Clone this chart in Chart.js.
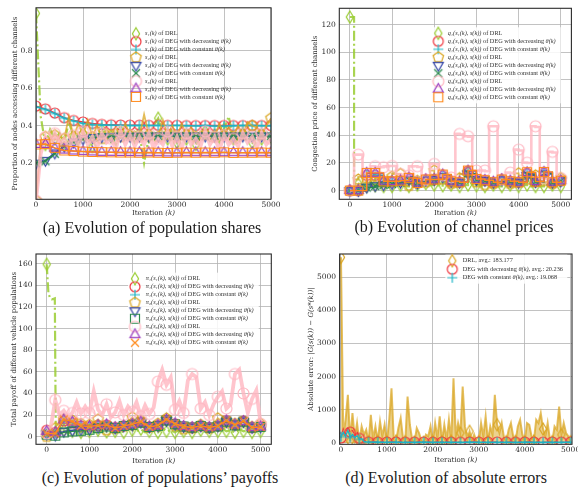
<!DOCTYPE html>
<html>
<head>
<meta charset="utf-8">
<script src="https://cdn.jsdelivr.net/npm/chart.js@4.4.1/dist/chart.umd.min.js"></script>
<style>
  html, body { margin: 0; padding: 0; background: #fff; width: 578px; height: 492px; overflow: hidden; }
  canvas { position: absolute; }
  .cap { position: absolute; font-family: "Liberation Serif", "DejaVu Serif", serif; font-size: 16px;
         color: #1a1a1a; white-space: nowrap; transform: translate(-50%, -50%); }
</style>
</head>
<body>
<canvas id="panelA" width="289" height="222" style="left:0px;top:0px"></canvas>
<canvas id="panelB" width="289" height="222" style="left:289px;top:0px"></canvas>
<canvas id="panelC" width="289" height="222" style="left:0px;top:245px"></canvas>
<canvas id="panelD" width="289" height="222" style="left:289px;top:245px"></canvas>
<div class="cap" style="left:152px;top:228px">(a) Evolution of population shares</div>
<div class="cap" style="left:454px;top:227px">(b) Evolution of channel prices</div>
<div class="cap" style="left:160px;top:478px">(c) Evolution of populations’ payoffs</div>
<div class="cap" style="left:446px;top:478px">(d) Evolution of absolute errors</div>
<script>
// ---------- iteration grids ----------
const iters50 = [], iters100 = [], iters200 = [];
for (let k = 0; k <= 5000; k += 50) iters50.push(k);
for (let k = 0; k <= 5000; k += 100) iters100.push(k);
for (let k = 0; k <= 5000; k += 200) iters200.push(k);

const xTicks = [0, 1000, 2000, 3000, 4000, 5000];
const yTicksA = [0.2, 0.4, 0.6, 0.8];
const yTicksB = [0, 20, 40, 60, 80, 100, 120];
const yTicksC = [0, 20, 40, 60, 80, 100, 120, 140, 160];
const yTicksD = [0, 1000, 2000, 3000, 4000, 5000];

// ---------- (a) population shares ----------
const shareS1DRL = [1.00,0.45,0.30,0.38,0.33,0.36,0.31,0.42,0.34,0.30,
  0.36,0.33,0.29,0.35,0.38,0.32,0.34,0.30,0.37,0.33,
  0.35,0.31,0.36,0.20,0.34,0.40,0.44,0.36,0.33,0.38,
  0.31,0.35,0.33,0.36,0.30,0.34,0.37,0.32,0.35,0.31,
  0.38,0.45,0.33,0.30,0.36,0.34,0.31,0.37,0.33,0.35,
  0.34];
const shareS2DRL = [0.00,0.30,0.34,0.33,0.35,0.34,0.33,0.45,0.34,0.41,
  0.35,0.43,0.34,0.40,0.33,0.38,0.35,0.39,0.34,0.41,
  0.35,0.37,0.34,0.46,0.35,0.36,0.34,0.43,0.35,0.40,
  0.34,0.41,0.35,0.39,0.34,0.37,0.35,0.36,0.34,0.41,
  0.35,0.39,0.34,0.40,0.35,0.42,0.40,0.39,0.35,0.40,
  0.44];
const shareS3DRL = [0.00,0.25,0.34,0.28,0.36,0.30,0.33,0.27,0.35,0.29,
  0.37,0.30,0.34,0.28,0.36,0.31,0.33,0.28,0.37,0.30,
  0.35,0.29,0.34,0.30,0.36,0.28,0.33,0.30,0.37,0.29,
  0.34,0.28,0.36,0.30,0.33,0.29,0.37,0.30,0.34,0.27,
  0.35,0.30,0.33,0.29,0.36,0.31,0.34,0.28,0.36,0.30,
  0.33];
const shareS1Dec = [0.505,0.490,0.468,0.443,0.428,0.420,0.412,0.407,0.405,0.404,0.403,0.403,0.402,0.402,0.402,0.402,0.401,0.401,0.401,0.401,0.401,0.401,0.401,0.401,0.401,0.401];
const shareS1Const = [0.500,0.487,0.465,0.440,0.425,0.412,0.406,0.404,0.403,0.402,0.401,0.401,0.401,0.401,0.400,0.402,0.400,0.399,0.401,0.398,0.398,0.400,0.401,0.402,0.400,0.400];
const shareS2Dec = [0.200,0.215,0.255,0.290,0.313,0.330,0.337,0.341,0.343,0.344,0.344,0.345,0.345,0.345,0.345,0.345,0.345,0.345,0.345,0.345,0.345,0.345,0.345,0.345,0.345,0.345];
const shareS2Const = [0.200,0.210,0.250,0.292,0.315,0.330,0.336,0.340,0.342,0.343,0.343,0.343,0.344,0.344,0.343,0.344,0.344,0.343,0.344,0.345,0.344,0.344,0.343,0.348,0.344,0.344];
const shareS3Dec = [0.300,0.300,0.280,0.270,0.265,0.262,0.260,0.258,0.258,0.257,0.257,0.256,0.256,0.256,0.255,0.255,0.256,0.256,0.256,0.256,0.256,0.256,0.256,0.256,0.256,0.256];
const shareS3Const = [0.300,0.302,0.282,0.268,0.265,0.262,0.260,0.259,0.258,0.257,0.257,0.256,0.257,0.256,0.255,0.256,0.257,0.256,0.257,0.256,0.258,0.255,0.256,0.256,0.257,0.256];

// ---------- (b) congestion prices ----------
const priceQ1DRL = [125.5,125.5,5,4,3,6,3.5,5,3,4,
  3,5,4,6,3,5,4,7,5,6,
  4,5,3.5,6,4,5,3,6,4,5,
  3.5,4,3,5,4,6,3,5,4,6,
  3,5,4,7,3,5,3,6,4,5,
  3];
const priceQ2DRL = [0,0,8,10,9,11,7,9,6,8,
  10,12,12,8,3.5,6,7,9,6,8,
  14.5,10,8,7,5,6,9,12,13,8,
  6,5,4,6,5,7,8,6,5,7,
  12.5,11,8,10,11,9,7,6,5,7,
  9];
const priceQ3DRL = [0,0,26,26,12.5,12,17.6,17,16.9,17.5,
  17.8,17.8,12,11.5,11,17.5,17.6,17,8,8.5,
  19.3,19,11,10,9.5,10,41,40.5,39.3,39,
  14.5,14.5,14.5,14,46.5,46.5,8,8,13,12.5,
  29.6,29,20.2,20,46.5,46,9,8.5,28,27.5,
  9];
const priceQ1Dec = [0,0,11,11,6.5,6.5,7,9,5.5,8,8,11,6.7,6,14,8.3,7.4,6,8,6.7,6,12.5,6.5,13,6,7.1];
const priceQ1Const = [0,0,11.5,11.2,6.6,6.5,7.1,9.1,5.5,8,8,11.3,6.7,6,14.3,8.3,7.5,6,8,6.7,6,12.8,6.5,13.2,6,7.1];
const priceQ2Dec = [0,0,2.5,3.5,4.2,5,6,8,5.5,7.5,8,10,6.5,6,12,8,7.3,6,7.8,6.6,6,11,6.4,12,6,7];
const priceQ2Const = [0,0,2.2,3.3,4,4.8,5.8,7.8,5.5,7.6,7.8,10.5,6.5,5.8,12.5,8,7.2,5.8,7.7,6.5,5.8,11.5,6.3,12.5,5.8,7];
const priceQ3Dec = [0,0,12.5,12.5,6.8,6.6,7,9,5.6,7.8,8.2,11.4,6.8,6.1,14.2,8.2,7.4,6.1,7.9,6.8,6.1,13,6.6,13.2,6.1,7.1];
const priceQ3Const = [0,0,12.8,12.8,6.7,6.7,7.2,9.2,5.5,8,8,11.6,6.7,6,14.5,8.4,7.5,6,8,6.7,6,13.3,6.5,13.5,6,7.2];

// ---------- (c) payoffs ----------
const payoffP1DRLIters = [0,40,80,120,160,190,212,
  300,400,500,600,700,800,900,1000,1100,1200,1300,1400,1500,1600,1700,1800,1900,2000,
  2100,2200,2300,2400,2500,2600,2700,2800,2900,3000,3100,3200,3300,3400,3500,3600,
  3700,3800,3900,4000,4100,4200,4300,4400,4500,4600,4700,4800,4900,5000];
const payoffP1DRL = [159.5,133,128,127,127.5,128,5,
  4,6,3,5,7,4,6,5,8,6,
  4,4.6,7,5,6,4,8,6,5,7,
  4,5,6,4,8,5,6,4,7,5,
  6,4,5,6,4,5,7,5,8,5,
  6,4,7,5,6,4,6,5];
const payoffP2DRL = [0,3,8,14,16,13,15,11,12,9,
  11,13,16,12,6,9,8,11,10,14,
  18,13,15,12,9,10,12,14,17,12,
  10,8,7,9,8,10,11,9,8,12,
  17,14,13,11,12,13,14,10,9,11,
  12];
const payoffP3DRL = [3,10,34,20,24,18,22,32,21.6,28,
  22,42,25,20,30,18,22.5,33,20,28,
  23,32,19,29,21,27,51,62,48,55,
  25,33,22,52,58,55,26,32,20,30,
  37,42,26,30,58,62,40,22,35,43,
  12];
const payoffP1Dec = [6,4,14.5,13,10,9.5,10.5,11,8.5,10,11.5,13.5,9,10.5,15.5,12,9.5,8.5,10,8.5,10,15,11,14.5,8.5,10];
const payoffP1Const = [4,3,15,13,10,9.5,10.5,11,8.5,10,11.5,13.5,9,10.5,15.5,12,9.5,8.5,10,8.5,10,15,11,14.5,8.5,9.5];
const payoffP2Dec = [2.5,1.5,5,6,6.5,7,8.5,10,8,10,11,13.5,9,10,15,11.5,9.5,8.5,10,8.5,10,14,11,14,8.5,9];
const payoffP2Const = [2,1,4,5,5.5,6.5,8,9.5,8,10,11,13,9,10,15,11.5,9.5,8.5,10,8.5,9.5,14,10.5,14,8.5,9];
const payoffP3Dec = [5,4,15.5,13.5,10,9.5,10.5,11,8.5,10,11.5,13.5,9,10.5,15.5,12,9.5,8.5,10,8.5,10,14.5,11,14,8.5,9];
const payoffP3Const = [3,3,16,14,10,9.5,10.5,11,8,10,11.5,14,9,10.5,16,12,9.5,8.5,10,8.5,10,15,11,14.5,8.5,9];

// ---------- (d) absolute errors ----------
const errDRL = [5600,200,700,1450,60,900,150,600,40,500,
  250,400,30,850,100,500,50,650,200,550,
  40,700,1650,100,60,450,750,150,40,1400,
  550,100,30,450,300,80,20,250,200,500,
  40,600,150,800,50,550,100,700,60,1950,
  200,600,300,1700,500,100,350,80,250,50,
  40,600,200,800,50,500,250,1450,550,300,
  600,150,40,400,600,200,50,500,700,250,
  40,600,550,200,60,700,600,900,420,200,
  600,100,40,500,400,1100,250,600,300,200,
  40];
const errDEGIters = [0,50,100,150,200,250,300,350,400,450,500,550,600,
  800,1000,1200,1400,1600,1800,2000,2200,2400,2600,2800,3000,3200,3400,3600,3800,4000,4200,4400,4600,4800,5000];
const errDec = [150,420,260,480,330,380,220,350,140,180,70,50,35,
  30,28,30,25,28,30,26,30,28,25,30,28,26,30,28,25,30,28,26,30,28,30];
const errConst = [190,320,200,380,170,260,160,220,110,130,50,35,25,
  22,20,22,18,20,22,19,21,20,18,22,20,19,21,20,18,22,20,19,21,20,22];

// ---------- labels ----------
const labelsA = ['s₁(k) of DRL', 's₁(k) of DEG with decreasing θ(k)', 's₁(k) of DEG with constant θ(k)',
  's₂(k) of DRL', 's₂(k) of DEG with decreasing θ(k)', 's₂(k) of DEG with constant θ(k)',
  's₃(k) of DRL', 's₃(k) of DEG with decreasing θ(k)', 's₃(k) of DEG with constant θ(k)'];
const labelsB = ['q₁(s₁(k), s(k)) of DRL', 'q₁(s₁(k), s(k)) of DEG with decreasing θ(k)', 'q₁(s₁(k), s(k)) of DEG with constant θ(k)',
  'q₂(s₂(k), s(k)) of DRL', 'q₂(s₂(k), s(k)) of DEG with decreasing θ(k)', 'q₂(s₂(k), s(k)) of DEG with constant θ(k)',
  'q₃(s₃(k), s(k)) of DRL', 'q₃(s₃(k), s(k)) of DEG with decreasing θ(k)', 'q₃(s₃(k), s(k)) of DEG with constant θ(k)'];
const labelsC = ['π₁(s₁(k), s(k)) of DRL', 'π₁(s₁(k), s(k)) of DEG with decreasing θ(k)', 'π₁(s₁(k), s(k)) of DEG with constant θ(k)',
  'π₂(s₂(k), s(k)) of DRL', 'π₂(s₂(k), s(k)) of DEG with decreasing θ(k)', 'π₂(s₂(k), s(k)) of DEG with constant θ(k)',
  'π₃(s₃(k), s(k)) of DRL', 'π₃(s₃(k), s(k)) of DEG with decreasing θ(k)', 'π₃(s₃(k), s(k)) of DEG with constant θ(k)'];
const labelsD = ['DRL, avg.: 183.177', 'DEG with decreasing θ(k), avg.: 20.236', 'DEG with constant θ(k), avg.: 19.068'];

// ---------- styling ----------
const SERIF = '"DejaVu Serif", serif';
const LEGEND_FONT = '"Liberation Serif", "DejaVu Serif", serif';
const GRID = '#b3b3b3';
const INK = '#2b2b2b';
Chart.defaults.font.family = SERIF;

const C = {
  yellowgreen: '#9acd32', red: '#f0373f', cyan: '#1db5c6', gold: '#daa520',
  navy: '#3546a6', green: '#2a8a4e', pink: '#ffb6c1', purple: '#9a3cbf', orange: '#ff8a1c'
};

function makeMarker(shape, color, size, lw) {
  lw = lw || 1.2;
  const pad = Math.ceil(lw) + 1;
  const s = Math.ceil(size) + pad * 2;
  const c = document.createElement('canvas');
  c.width = s; c.height = s;
  const g = c.getContext('2d');
  g.translate(s / 2, s / 2);
  g.strokeStyle = color; g.lineWidth = lw;
  const r = size / 2;
  g.beginPath();
  const poly = (angles, rad) => {
    angles.forEach((a, i) => {
      const t = a * Math.PI / 180;
      const px = rad * Math.cos(t), py = rad * Math.sin(t);
      if (i === 0) g.moveTo(px, py); else g.lineTo(px, py);
    });
    g.closePath();
  };
  if (shape === 'circle') g.arc(0, 0, r, 0, Math.PI * 2);
  else if (shape === 'thinDiamond') { g.moveTo(0, -r); g.lineTo(r * 0.6, 0); g.lineTo(0, r); g.lineTo(-r * 0.6, 0); g.closePath(); }
  else if (shape === 'plus') { g.moveTo(-r, 0); g.lineTo(r, 0); g.moveTo(0, -r); g.lineTo(0, r); }
  else if (shape === 'cross') { const q = r * 0.8; g.moveTo(-q, -q); g.lineTo(q, q); g.moveTo(q, -q); g.lineTo(-q, q); }
  else if (shape === 'square') { const h = r * 0.9; g.rect(-h, -h, 2 * h, 2 * h); }
  else if (shape === 'pentagon') poly([-90, -18, 54, 126, 198], r);
  else if (shape === 'triUp') poly([-90, 30, 150], r * 1.05);
  else if (shape === 'triDown') poly([90, 210, 330], r * 1.05);
  g.stroke();
  return c;
}

const DASHDOT = [10, 3, 2, 3];
const markerAt200 = ctx => (ctx.raw && ctx.raw.x % 200 === 0) ? 4 : 0;

function series(label, xs, ys, st, i) {
  return {
    label,
    data: xs.map((x, j) => ({ x, y: ys[j] })),
    borderColor: st.line,
    borderWidth: st.lw,
    borderDash: st.dash || [],
    stepped: st.stepped || false,
    fill: st.fill || false,
    backgroundColor: st.fillColor || 'transparent',
    tension: 0,
    pointStyle: makeMarker(st.shape, st.color, st.size || 10, 1.2),
    pointRadius: markerAt200,
    order: -i
  };
}

function richText(ctx, text, x, y, size, family, color, align) {
  const words = text.split(' ');
  const fonts = words.map(w => (/[()|]/.test(w) ? 'italic ' : '') + size + 'px ' + family);
  ctx.font = size + 'px ' + family;
  const sp = ctx.measureText(' ').width;
  const widths = words.map((w, i) => { ctx.font = fonts[i]; return ctx.measureText(w).width; });
  const total = widths.reduce((a, b) => a + b, 0) + sp * (words.length - 1);
  let cx = align === 'center' ? x - total / 2 : x;
  ctx.fillStyle = color; ctx.textBaseline = 'middle'; ctx.textAlign = 'left';
  words.forEach((w, i) => { ctx.font = fonts[i]; ctx.fillText(w, cx, y); cx += widths[i] + sp; });
  return total;
}

// frame, axis titles and in-axes legend
const decorPlugin = {
  id: 'decor',
  afterDraw(chart, args, o) {
    const ctx = chart.ctx, a = chart.chartArea;
    ctx.save();
    ctx.strokeStyle = INK; ctx.lineWidth = 1.1;
    ctx.strokeRect(a.left, a.top, a.right - a.left, a.bottom - a.top);
    richText(ctx, o.xTitle, (a.left + a.right) / 2, o.xTitleY, 7, SERIF, INK, 'center');
    ctx.translate(o.yTitleX, (a.top + a.bottom) / 2);
    ctx.rotate(-Math.PI / 2);
    richText(ctx, o.yTitle, 0, 0, 7, SERIF, INK, 'center');
    ctx.restore();

    const L = o.legend;
    const ds = chart.data.datasets;
    ctx.save();
    if (L.bg) {
      let maxW = 0;
      ds.forEach(d => {
        ctx.font = L.size + 'px ' + LEGEND_FONT;
        maxW = Math.max(maxW, ctx.measureText(d.label).width);
      });
      ctx.fillStyle = 'rgba(255,255,255,0.85)';
      ctx.fillRect(L.mx - 7, L.y0 - 6, L.tx - L.mx + 7 + maxW + 4, L.dy * (ds.length - 1) + 12);
    }
    ds.forEach((d, i) => {
      const y = L.y0 + i * L.dy;
      const m = d.pointStyle;
      ctx.drawImage(m, L.mx - m.width / 2, y - m.height / 2);
      richText(ctx, d.label, L.tx, y, L.size, LEGEND_FONT, '#333', 'left');
    });
    ctx.restore();
  }
};

function buildChart(id, p) {
  const canvas = document.getElementById(id);
  const W = canvas.width, H = canvas.height, A = p.area;
  return new Chart(canvas, {
    type: 'line',
    data: { datasets: p.datasets },
    options: {
      responsive: false, animation: false, devicePixelRatio: 1, events: [],
      layout: { padding: { top: A.top, right: W - A.right, left: 0, bottom: 0 } },
      plugins: {
        legend: { display: false }, tooltip: { enabled: false },
        decor: { xTitle: 'Iteration (k)', xTitleY: p.xTitleY, yTitle: p.yTitle, yTitleX: p.yTitleX, legend: p.legend }
      },
      scales: {
        x: {
          type: 'linear', min: p.xMin, max: p.xMax,
          afterBuildTicks: s => { s.ticks = xTicks.map(v => ({ value: v })); },
          afterFit: s => { s.height = H - A.bottom; s.paddingLeft = 0; s.paddingRight = 0; },
          grid: { color: GRID, lineWidth: 0.8, drawTicks: false },
          border: { display: false },
          ticks: { font: { family: SERIF, size: 7.5, lineHeight: 1.2 }, color: INK, padding: 1.5,
                   maxRotation: 0, autoSkip: false, callback: v => String(v) }
        },
        y: {
          type: 'linear', min: p.yMin, max: p.yMax,
          afterBuildTicks: s => { s.ticks = p.yTicks.map(v => ({ value: v })); },
          afterFit: s => { s.width = A.left; s.paddingTop = 0; s.paddingBottom = 0; },
          grid: { color: GRID, lineWidth: 0.8, drawTicks: false },
          border: { display: false },
          ticks: { font: { family: SERIF, size: 7.5, lineHeight: 1.2 }, color: INK, padding: 3.5,
                   autoSkip: false, callback: p.yFmt }
        }
      }
    },
    plugins: [decorPlugin]
  });
}

// line / marker styles shared by the three-channel panels
const stDRL1 = { line: 'rgba(154,205,50,0.85)', lw: 2.2, dash: DASHDOT, shape: 'thinDiamond', color: C.yellowgreen, size: 12 };
const stDec1 = { line: C.red, lw: 1.4, shape: 'circle', color: C.red, size: 10 };
const stCon1 = { line: C.cyan, lw: 1.4, shape: 'plus', color: C.cyan, size: 10 };
const stDRL2 = { line: 'rgba(218,165,32,0.75)', lw: 1.8, shape: 'pentagon', color: C.gold, size: 11 };
const stDec2 = { line: C.navy, lw: 1.3, shape: 'triDown', color: C.navy, size: 11 };
const stCon2 = { line: C.green, lw: 1.3, shape: 'cross', color: C.green, size: 10 };
const stDRL3 = { line: 'rgba(255,182,193,0.8)', lw: 3.2, shape: 'circle', color: C.pink, size: 11 };
const stDec3 = { line: C.purple, lw: 1.3, shape: 'triUp', color: C.purple, size: 11 };
const stCon3 = { line: C.orange, lw: 1.4, shape: 'square', color: C.orange, size: 10 };

// (a)
buildChart('panelA', {
  area: { left: 36, top: 1, right: 271, bottom: 199.3 },
  xMin: 0, xMax: 5000, yMin: 0.007, yMax: 1.03, yTicks: yTicksA, yFmt: v => v.toFixed(1),
  xTitleY: 213.5, yTitleX: 15, yTitle: 'Proportion of nodes accessing different channels',
  legend: { mx: 136, tx: 145, y0: 33.7, dy: 7.9, size: 6.3, bg: false },
  datasets: [
    series(labelsA[0], iters100, shareS1DRL, stDRL1, 0),
    series(labelsA[1], iters200, shareS1Dec, stDec1, 1),
    series(labelsA[2], iters200, shareS1Const, stCon1, 2),
    series(labelsA[3], iters100, shareS2DRL, stDRL2, 3),
    series(labelsA[4], iters200, shareS2Dec, stDec2, 4),
    series(labelsA[5], iters200, shareS2Const, stCon2, 5),
    series(labelsA[6], iters100, shareS3DRL, Object.assign({}, stDRL3, { lw: 3.8 }), 6),
    series(labelsA[7], iters200, shareS3Dec, stDec3, 7),
    series(labelsA[8], iters200, shareS3Const, stCon3, 8)
  ]
});

// (b)
const stepA = s => Object.assign({}, s, { stepped: 'after' });
const stepB = s => Object.assign({}, s, { stepped: 'before' });
buildChart('panelB', {
  area: { left: 50.3, top: 8.3, right: 285, bottom: 199.3 },
  xMin: -250, xMax: 5250, yMin: -6.3, yMax: 131.8, yTicks: yTicksB, yFmt: v => String(v),
  xTitleY: 213.3, yTitleX: 26, yTitle: 'Congestion price of different channels',
  legend: { mx: 149.3, tx: 158.7, y0: 33.3, dy: 8.0, size: 6.3, bg: true },
  datasets: [
    series(labelsB[0], iters100, priceQ1DRL, stepA(stDRL1), 0),
    series(labelsB[1], iters200, priceQ1Dec, stepB(stDec1), 1),
    series(labelsB[2], iters200, priceQ1Const, stepB(stCon1), 2),
    series(labelsB[3], iters100, priceQ2DRL, stepA(stDRL2), 3),
    series(labelsB[4], iters200, priceQ2Dec, stepB(stDec2), 4),
    series(labelsB[5], iters200, priceQ2Const, stepB(stCon2), 5),
    series(labelsB[6], iters100, priceQ3DRL, stepA(Object.assign({}, stDRL3, { lw: 2.6 })), 6),
    series(labelsB[7], iters200, priceQ3Dec, stepB(stDec3), 7),
    series(labelsB[8], iters200, priceQ3Const, stepB(stCon3), 8)
  ]
});

// (c)
const stCon2c = { line: C.green, lw: 1.3, shape: 'square', color: C.green, size: 10 };
const stCon3c = { line: C.orange, lw: 1.4, shape: 'cross', color: C.orange, size: 10 };
buildChart('panelC', {
  area: { left: 36, top: 9, right: 271.3, bottom: 199.3 },
  xMin: -250, xMax: 5250, yMin: -7, yMax: 169, yTicks: yTicksC, yFmt: v => String(v),
  xTitleY: 215.7, yTitleX: 14, yTitle: 'Total payoff of different vehicle populations',
  legend: { mx: 135, tx: 145.7, y0: 33.7, dy: 8.0, size: 6.3, bg: true },
  datasets: [
    series(labelsC[0], payoffP1DRLIters, payoffP1DRL, stDRL1, 0),
    series(labelsC[1], iters200, payoffP1Dec, stDec1, 1),
    series(labelsC[2], iters200, payoffP1Const, stCon1, 2),
    series(labelsC[3], iters100, payoffP2DRL, stDRL2, 3),
    series(labelsC[4], iters200, payoffP2Dec, stDec2, 4),
    series(labelsC[5], iters200, payoffP2Const, stCon2c, 5),
    series(labelsC[6], iters100, payoffP3DRL, Object.assign({}, stDRL3, { lw: 3.8 }), 6),
    series(labelsC[7], iters200, payoffP3Dec, stDec3, 7),
    series(labelsC[8], iters200, payoffP3Const, stCon3c, 8)
  ]
});

// (d)
buildChart('panelD', {
  area: { left: 50.6, top: 9, right: 286, bottom: 199.3 },
  xMin: -30, xMax: 5030, yMin: -40, yMax: 5700, yTicks: yTicksD, yFmt: v => String(v),
  xTitleY: 215, yTitleX: 21.7, yTitle: 'Absolute error: |G(s(k)) − G(s*(k))|',
  legend: { mx: 163.3, tx: 173.7, y0: 15.7, dy: 8.5, size: 6.3, bg: true },
  datasets: [
    series(labelsD[0], iters50, errDRL, { line: 'rgba(218,165,32,0.72)', lw: 2.0, shape: 'thinDiamond', color: C.gold, size: 12,
                                          fill: 'origin', fillColor: 'rgba(218,165,32,0.5)' }, 0),
    series(labelsD[1], errDEGIters, errDec, { line: C.red, lw: 1.3, dash: [4, 2], shape: 'circle', color: C.red, size: 10 }, 1),
    series(labelsD[2], errDEGIters, errConst, { line: C.cyan, lw: 1.3, shape: 'plus', color: C.cyan, size: 10 }, 2)
  ]
});
</script>
</body>
</html>
